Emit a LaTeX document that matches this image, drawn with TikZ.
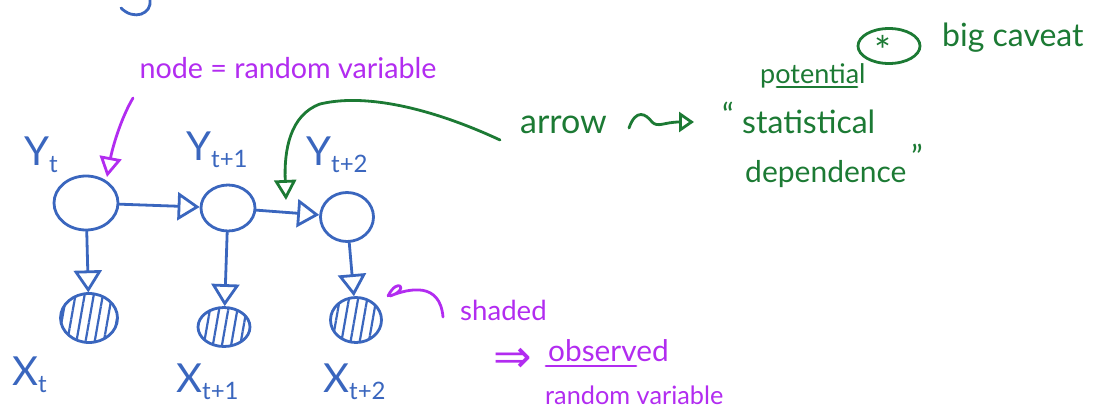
\documentclass[tikz,border=0pt]{standalone}
\usepackage{fontspec}
\setmainfont{Lato}
\newfontfamily\djv{DejaVu Sans}
\usetikzlibrary{arrows.meta,patterns.meta,shapes.geometric}
\definecolor{ink}{RGB}{58,102,190}
\definecolor{mag}{RGB}{178,44,240}
\definecolor{grn}{RGB}{28,122,52}
\newcommand\lsub[1]{\raisebox{-7pt}{\fontsize{24}{24}\selectfont #1}}
\begin{document}
\begin{tikzpicture}[x=1pt,y=-1pt,line cap=round,line join=round,
  var/.style={ellipse,draw=ink,line width=2.8pt,inner sep=0pt},
  obs/.style={var,pattern={Lines[angle=80,distance=9pt,line width=2.2pt]},pattern color=ink},
  edge/.style={draw=ink,line width=2.8pt,-{Triangle[open,length=22pt,width=28pt,line width=2.8pt]}},
  lbl/.style={text=ink,font=\fontsize{40}{40}\selectfont,inner sep=0pt,anchor=base west},
  note/.style={inner sep=0pt,anchor=base west},
  magnote/.style={note,text=mag},
  grnnote/.style={note,text=grn}]
\useasboundingbox (0,0) rectangle (1099,412);
% partial stroke at top
\draw[ink,line width=2.8pt] (150,0) .. controls (152,14) and (134,21) .. (121,8);
% nodes
\node[var,minimum width=64pt,minimum height=54pt] (y1) at (86,203) {};
\node[var,minimum width=54pt,minimum height=46pt] (y2) at (228,208) {};
\node[var,minimum width=53pt,minimum height=49pt] (y3) at (347,217) {};
\node[obs,minimum width=57pt,minimum height=49pt] (x1) at (89,318) {};
\node[obs,minimum width=52pt,minimum height=39pt] (x2) at (224,327) {};
\node[obs,minimum width=51pt,minimum height=45pt] (x3) at (356,320) {};
% labels
\node[lbl] (ly1) at (24,165) {Y\lsub{t}};
\node[lbl] (ly2) at (186,160) {Y\lsub{t+1}};
\node[lbl] (ly3) at (306,165) {Y\lsub{t+2}};
\node[lbl] (lx1) at (12,385) {X\lsub{t}};
\node[lbl] (lx2) at (176,392) {X\lsub{t+1}};
\node[lbl] (lx3) at (323,392) {X\lsub{t+2}};
% edges
\draw[edge] (y1) -- (y2);
\draw[edge] (y2) -- (y3);
\draw[edge] (y1) -- (x1);
\draw[edge] (y2) -- (x2);
\draw[edge] (y3) -- (x3);
% magenta notes
\node[magnote,anchor=base,font=\fontsize{28.7}{30}\selectfont] (nrv) at (288,78) {node = random variable};
\coordinate (ms) at (133,98);
\coordinate (me) at (107,177);
\draw[mag,line width=2.8pt,-{Triangle[open,length=20pt,width=22pt,line width=2.8pt]}] (ms) .. controls (120,120) and (112,150) .. (me);
\node[magnote,font=\fontsize{27.6}{30}\selectfont] (shd) at (460,320) {shaded};
\coordinate (ls) at (388,296);
\coordinate (le) at (443,317);
\draw[mag,line width=2.8pt] (ls) .. controls (398,276) and (410,290) .. (390,296) .. controls (410,288) and (440,282) .. (le);
\node[magnote,anchor=base,font=\fontsize{46}{46}\djv] (imp) at (513,372) {⇒};
\node[magnote,font=\fontsize{29.8}{30}\selectfont] (obsv) at (548,361) {observed};
\draw[mag,line width=2.8pt] (obsv.base west) ++(-2,5) -- ++(90,0);
\node[magnote,font=\fontsize{25.3}{30}\selectfont] (rv2) at (545,404) {random variable};
% green notes
\node[grnnote,font=\fontsize{34}{34}\selectfont] (arr) at (520,133) {arrow};
\coordinate (gs) at (500,140);
\coordinate (ge) at (286,200);
\draw[grn,line width=2.8pt,-{Triangle[open,length=20pt,width=22pt,line width=2.8pt]}] (gs) .. controls (440,112) and (370,92) .. (320,104) .. controls (290,115) and (284,150) .. (ge);
\coordinate (sqs) at (629,128);
\coordinate (sqe) at (694,122);
\draw[grn,line width=2.8pt,-{Triangle[open,length=15pt,width=20pt,line width=2.8pt]}] (sqs) .. controls (636,108) and (646,114) .. (652,122) .. controls (658,128) and (664,122) .. (sqe);
\node[grnnote,font=\fontsize{32}{32}\selectfont] (oq) at (722,126) {``};
\node[grnnote,font=\fontsize{32}{32}\selectfont] (stat) at (742,133) {statistical};
\node[grnnote,font=\fontsize{30}{32}\selectfont] (dep) at (745,182) {dependence};
\node[grnnote,font=\fontsize{32}{32}\selectfont] (cq) at (911,168) {''};
\node[grnnote,font=\fontsize{27}{30}\selectfont] (pot) at (760,83) {potential};
\draw[grn,line width=2.8pt] (777,87) -- (857,87);
\node[draw=grn,line width=2.8pt,ellipse,inner sep=0pt,minimum width=62pt,minimum height=35pt] (circ) at (889,46) {};
\node[text=grn,inner sep=0pt,font=\fontsize{40}{40}\selectfont] (star) at (883,50) {\raisebox{-0.2em}{*}};
\node[grnnote,font=\fontsize{32}{32}\selectfont] (cav) at (942,47) {big caveat};
\end{tikzpicture}
\end{document}
